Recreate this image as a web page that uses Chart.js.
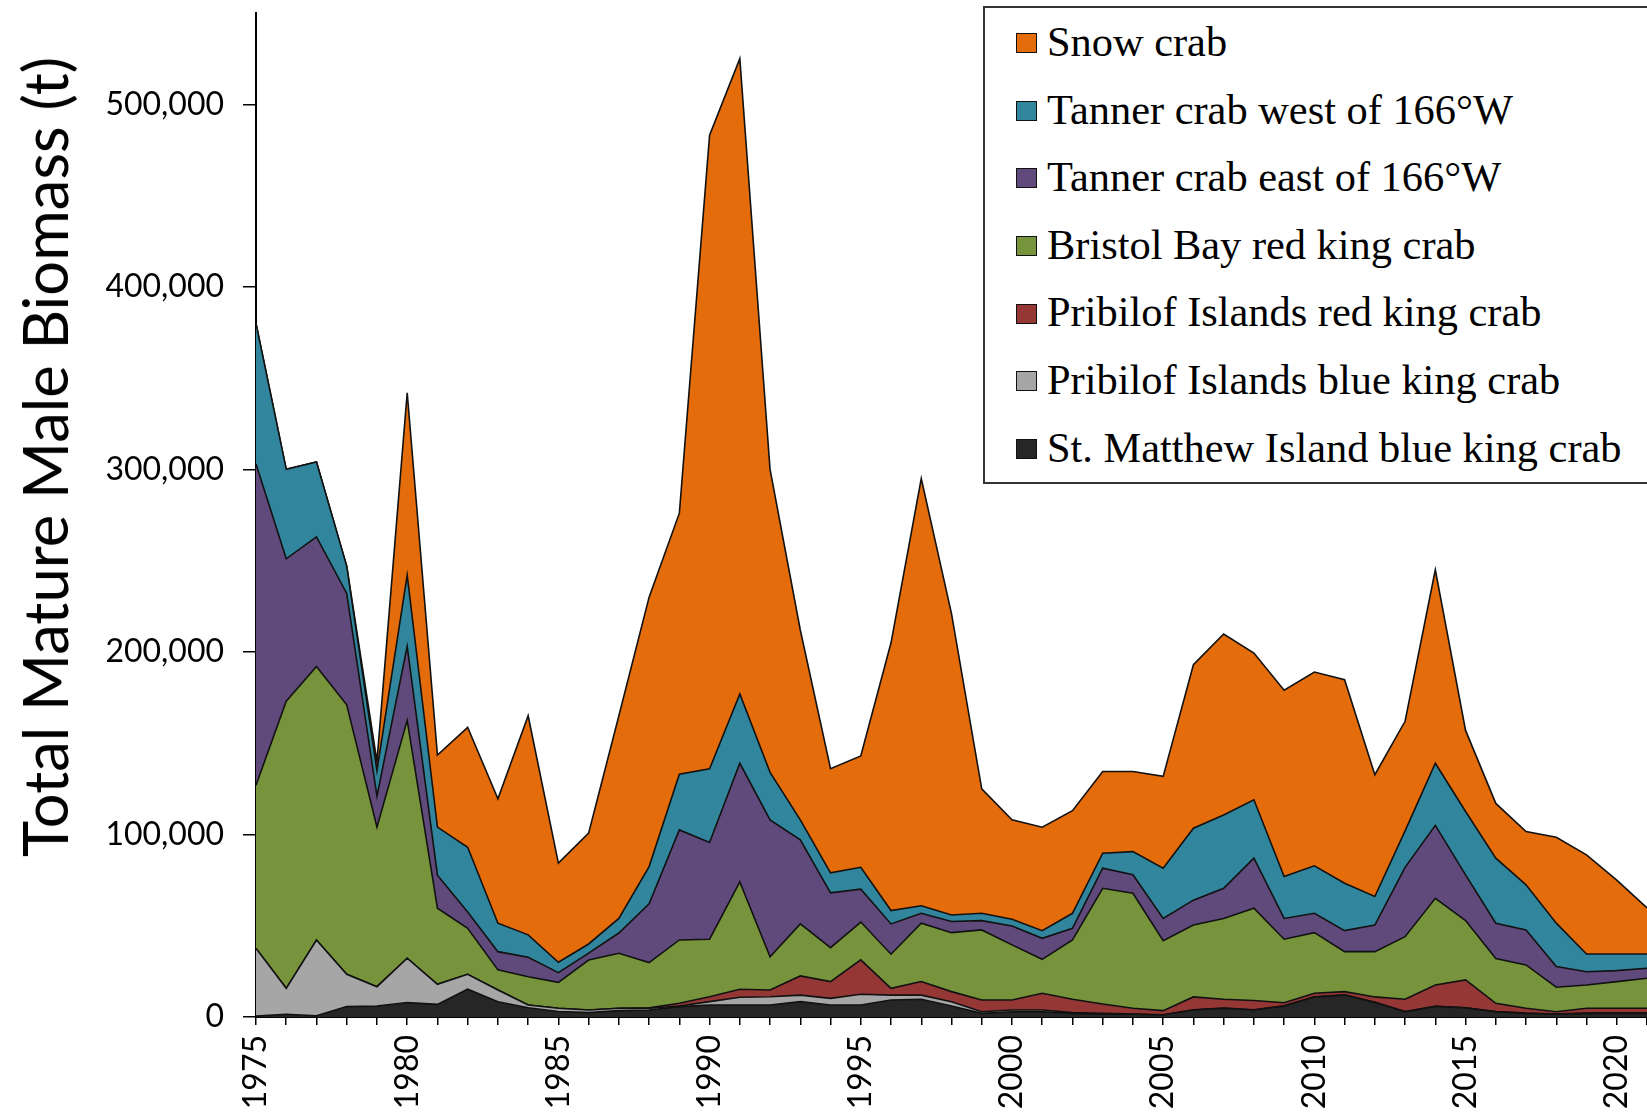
<!DOCTYPE html>
<html>
<head>
<meta charset="utf-8">
<title>Total Mature Male Biomass</title>
<script src="https://cdn.jsdelivr.net/npm/chart.js@4.4.1/dist/chart.umd.min.js"></script>
<style>
  html, body { margin: 0; padding: 0; background: #fff; }
  #wrap { position: relative; width: 1647px; height: 1114px; overflow: hidden; }
  #yTitle {
    position: absolute; left: 44px; top: 457px;
    transform: translate(-50%, -50%) rotate(-90deg);
    white-space: nowrap; font-family: Lato, sans-serif; font-size: 61.5px; color: #000;
  }
  #legendBox {
    position: absolute; left: 983px; top: 6px; width: 700px; height: 474px;
    border: 2px solid #333; background: #fff; box-sizing: content-box;
  }
  .legendRow {
    height: 67.6px; line-height: 67.6px; white-space: nowrap;
    font-family: "Liberation Serif", "Times New Roman", serif; font-size: 42.4px; color: #000;
  }
  .swatch {
    display: inline-block; width: 19px; height: 18px; border: 1.5px solid #111;
    margin-left: 31px; margin-right: 10px; vertical-align: middle; position: relative; top: -3px;
  }
</style>
</head>
<body>
<div id="wrap">
  <canvas id="crabChart" width="1647" height="1114"></canvas>
  <div id="yTitle">Total Mature Male Biomass (t)</div>
  <div id="legendBox"></div>
</div>
<script>
// --- DATA (tonnes of mature male biomass, survey years) ---
const years = [1975, 1976, 1977, 1978, 1979, 1980, 1981, 1982, 1983, 1984,
  1985, 1986, 1987, 1988, 1989, 1990, 1991, 1992, 1993, 1994,
  1995, 1996, 1997, 1998, 1999, 2000, 2001, 2002, 2003, 2004,
  2005, 2006, 2007, 2008, 2009, 2010, 2011, 2012, 2013, 2014,
  2015, 2016, 2017, 2018, 2019, 2020, 2021];
const labelledYears = [1975, 1980, 1985, 1990, 1995, 2000, 2005, 2010, 2015, 2020];
const yTicks = [0, 100000, 200000, 300000, 400000, 500000];

// stacked bottom to top
const stMatthewBKC = [500, 1500, 700, 5700, 6000, 7900, 6900, 15200, 8400, 5100,
  3000, 2400, 3500, 3800, 5700, 6600, 6600, 6600, 8400, 6600,
  6600, 9300, 9700, 6000, 2000, 2900, 2900, 2000, 1600, 1500,
  1100, 3800, 4800, 3800, 6000, 11000, 12000, 8000, 2900, 5800,
  5000, 2900, 2000, 1500, 2000, 2000, 2000];
const pribilofBKC = [37100, 14200, 41500, 17700, 10600, 24300, 11000, 8200, 6400, 1500,
  1800, 1400, 1300, 1000, 300, 1800, 4200, 4500, 3600, 3600,
  5900, 2700, 2300, 2400, 900, 900, 900, 400, 400, 100,
  100, 100, 100, 100, 100, 100, 100, 100, 100, 100,
  100, 100, 100, 100, 100, 100, 100];
const pribilofRKC = [0, 0, 0, 0, 0, 0, 0, 0, 0, 0,
  0, 0, 0, 200, 1500, 2700, 4400, 3700, 10500, 9200,
  18800, 3700, 7400, 5500, 6400, 5500, 9200, 7300, 5100, 3200,
  2300, 7100, 4800, 5100, 1700, 1900, 1800, 2900, 6700, 11600,
  15200, 4500, 2700, 1300, 2700, 2700, 2700];
const bristolBayRKC = [89400, 157300, 149800, 147600, 87400, 130300, 41700, 25200, 11000, 15400,
  14200, 27400, 30100, 24800, 34700, 31500, 58800, 18200, 28500, 18600,
  20700, 18700, 32000, 32300, 38400, 30200, 18600, 32500, 63400, 63000,
  38300, 39400, 44300, 50600, 34800, 33200, 21900, 24800, 34300, 47500,
  32500, 24500, 23700, 13400, 12700, 14600, 16400];
const tannerEast = [176000, 78000, 71000, 61000, 17000, 40500, 18100, 8900, 10000, 10700,
  5300, 3800, 11100, 32200, 60300, 53000, 65000, 75000, 46000, 30000,
  18000, 16600, 5400, 6100, 5100, 10400, 11500, 6400, 11000, 10100,
  12200, 13600, 16500, 27400, 11400, 10600, 11500, 14600, 38000, 40000,
  25100, 19400, 19200, 11300, 7300, 6000, 5500];
const tannerWest = [77000, 49000, 41000, 15000, 14000, 39000, 26300, 35500, 15600, 12300,
  5700, 5000, 8000, 20400, 30500, 40400, 38000, 26000, 11000, 11000,
  12000, 7300, 4100, 3600, 4000, 3600, 4200, 8200, 8200, 12700,
  27500, 39400, 40200, 32000, 23000, 26000, 26000, 15600, 20000, 34000,
  34700, 35600, 24700, 23800, 9700, 9100, 7800];
const snowCrab = [0, 0, 0, 0, 5000, 100000, 39500, 65700, 68100, 120000,
  54300, 60700, 111000, 147600, 143000, 347000, 348000, 166000, 104000, 57000,
  61000, 146700, 234100, 165100, 68200, 54500, 56700, 56200, 44800, 43900,
  50300, 89600, 99100, 80400, 102000, 106200, 111500, 66700, 60000, 106000,
  44400, 30000, 29200, 47100, 54300, 40500, 25300];

const stocks = [
  { label: 'St. Matthew Island blue king crab', data: stMatthewBKC, color: '#262626' },
  { label: 'Pribilof Islands blue king crab', data: pribilofBKC, color: '#a6a6a6' },
  { label: 'Pribilof Islands red king crab', data: pribilofRKC, color: '#953735' },
  { label: 'Bristol Bay red king crab', data: bristolBayRKC, color: '#77933c' },
  { label: 'Tanner crab east of 166°W', data: tannerEast, color: '#604a7b' },
  { label: 'Tanner crab west of 166°W', data: tannerWest, color: '#31859c' },
  { label: 'Snow crab', data: snowCrab, color: '#e46c0a' },
];

// --- CHART ---
const AXIS_LEFT = 256;
const AXIS_BOTTOM_GAP = 97;

const datasets = stocks.map((s, i) => ({
  label: s.label,
  data: s.data,
  backgroundColor: s.color,
  borderColor: '#111',
  borderWidth: 1.6,
  pointRadius: 0,
  tension: 0,
  fill: i === 0 ? 'origin' : '-1',
}));

// Fixed axis sizes; drop the label overhang padding so the plot runs to the canvas edge.
function fixX(scale) {
  scale.height = AXIS_BOTTOM_GAP;
  scale.paddingLeft = 0;
  scale.paddingRight = 0;
}
function fixY(scale) {
  scale.width = AXIS_LEFT;
  scale.paddingTop = 0;
  scale.paddingBottom = 0;
}

new Chart(document.getElementById('crabChart'), {
  type: 'line',
  data: { labels: years, datasets },
  options: {
    responsive: false,
    animation: false,
    layout: { padding: { top: 13, right: 0, bottom: 0, left: 0 } },
    plugins: { legend: { display: false }, tooltip: { enabled: false } },
    scales: {
      x: {
        offset: false,
        grid: { drawOnChartArea: false, drawTicks: true, tickLength: 8, color: '#000', lineWidth: 1.5 },
        border: { color: '#000', width: 2 },
        ticks: {
          autoSkip: false, minRotation: 90, maxRotation: 90, padding: 10,
          color: '#000', font: { family: 'Lato', size: 32 },
          callback: (v, idx) => labelledYears.includes(years[idx]) ? String(years[idx]) : '',
        },
        afterFit: fixX,
      },
      y: {
        stacked: true,
        min: 0,
        max: 550000,
        grid: { drawOnChartArea: false, drawTicks: true, tickLength: 13, color: '#000', lineWidth: 1.5 },
        border: { color: '#000', width: 2 },
        afterBuildTicks: (scale) => { scale.ticks = yTicks.map(v => ({ value: v })); },
        ticks: {
          padding: 19, color: '#000', font: { family: 'Lato', size: 32 },
          callback: (v) => v.toLocaleString('en-US'),
        },
        afterFit: fixY,
      },
    },
  },
});

// --- LEGEND (top of stack listed first) ---
const legendBox = document.getElementById('legendBox');
stocks.slice().reverse().forEach(s => {
  const row = document.createElement('div');
  row.className = 'legendRow';
  const sw = document.createElement('span');
  sw.className = 'swatch';
  sw.style.background = s.color;
  row.appendChild(sw);
  row.appendChild(document.createTextNode(s.label));
  legendBox.appendChild(row);
});
</script>
</body>
</html>
